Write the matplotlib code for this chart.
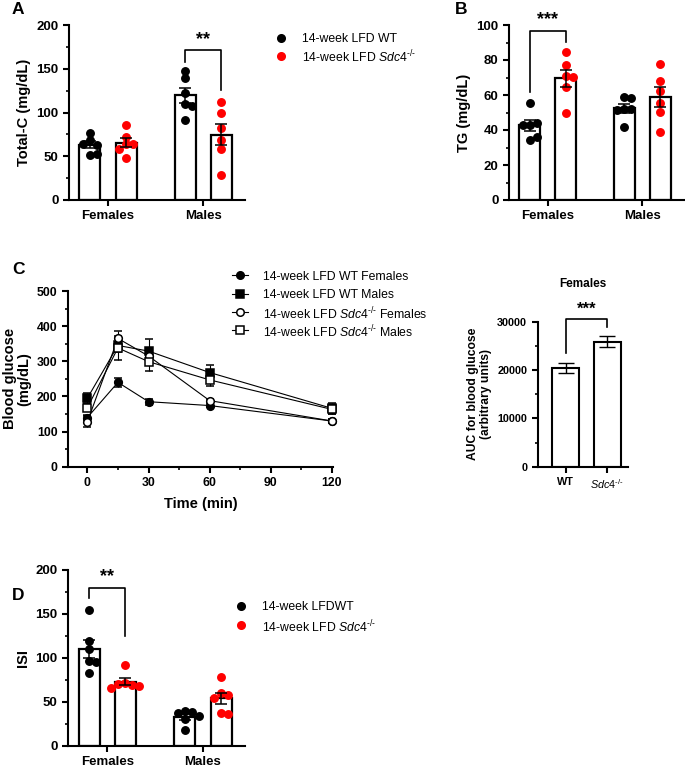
import numpy as np
import matplotlib
matplotlib.use("Agg")
import matplotlib.pyplot as plt
from matplotlib.lines import Line2D
from matplotlib.ticker import MultipleLocator

plt.rcParams["font.family"] = ["Liberation Sans", "DejaVu Sans"]
plt.rcParams["mathtext.fontset"] = "custom"
plt.rcParams["mathtext.rm"] = "Liberation Sans"
plt.rcParams["mathtext.it"] = "Liberation Sans:italic"
plt.rcParams["mathtext.bf"] = "Liberation Sans:bold"

# ── data ──────────────────────────────────────────────────────────────────────
GROUPS = ["Females", "Males"]

# A: total cholesterol (mg/dL)
TC_WT_F = [77, 69, 63, 64, 52, 53]
TC_KO_F = [86, 72, 64, 64, 58, 48]
TC_WT_M = [147, 139, 122, 110, 108, 91]
TC_KO_M = [112, 99, 82, 69, 58, 29]

# B: triglycerides (mg/dL)
TG_WT_F = [55.6, 43, 44, 43, 34.5, 36]
TG_KO_F = [84.4, 77, 70.9, 70.5, 64.4, 49.9]
TG_WT_M = [58.7, 58.5, 51.8, 51.8, 51.4, 42]
TG_KO_M = [77.5, 68.2, 62.3, 55.6, 50.5, 38.7]

# C: glucose tolerance (mg/dL) over time (min)
TIME = [0, 15, 30, 60, 120]
GTT_WT_F = [140, 240, 185, 174, 130]
GTT_WT_F_SEM = [8, 12, 9, 5, 5]
GTT_WT_M = [195, 345, 329, 268, 166]
GTT_WT_M_SEM = [14, 20, 33, 20, 15]
GTT_KO_F = [128, 365, 315, 188, 130]
GTT_KO_F_SEM = [16, 20, 15, 5, 5]
GTT_KO_M = [168, 338, 299, 247, 163]
GTT_KO_M_SEM = [10, 35, 28, 18, 12]

# C (right): AUC, females
KO = r"$\mathit{Sdc4}^{\text{-/-}}$"
AUC_LABELS = ["WT", KO]
AUC_MEAN = [20500, 25850]
AUC_SEM = [1050, 1150]

# D: insulin sensitivity index
ISI_WT_F = [154.5, 119.7, 110, 96.6, 95.5, 83.3]
ISI_KO_F = [92, 72, 69, 70, 68, 66]
ISI_WT_M = [40, 39, 37, 34, 31, 18]
ISI_KO_M = [78, 60, 58, 55, 37, 36]

# ── styling ───────────────────────────────────────────────────────────────────
W, H = 685, 768
RED = "#ff0000"
OFF = 0.19
BAR_W = 0.22
DOT_GAP = 7.0     # px between neighbouring dots
DOT_HIT = 6.3     # px, dots closer than this get pushed sideways
LEG_FS = 8.8

fig = plt.figure(figsize=(W / 100, H / 100), dpi=100)


def ax_px(l, t, r, b):
    return fig.add_axes([l / W, 1 - b / H, (r - l) / W, (b - t) / H])


def style(ax, tick_fs):
    ax.spines[["top", "right"]].set_visible(False)
    ax.spines[["left", "bottom"]].set_linewidth(1.5)
    ax.tick_params(which="major", length=4, width=1.5, labelsize=tick_fs)
    ax.tick_params(which="minor", length=2.5, width=1.2)
    for lab in ax.get_yticklabels() + ax.get_xticklabels():
        lab.set_fontweight("bold")


def swarm(ax, xc, vals, color):
    # place dots side by side when they would overlap (GraphPad-like)
    px_per_x = ax.transData.transform((1, 0))[0] - ax.transData.transform((0, 0))[0]
    placed = []
    xs = []
    for v in vals:
        yp = ax.transData.transform((0, v))[1]
        for k in [0, 1, -1, 2, -2, 3, -3]:
            xp = k * DOT_GAP
            if all((xp - a) ** 2 + (yp - b) ** 2 >= DOT_HIT ** 2 for a, b in placed):
                break
        placed.append((xp, yp))
        xs.append(xc + xp / px_per_x)
    ax.plot(xs, vals, "o", ms=5.4, color=color, mec=color, zorder=3, clip_on=False)


def bracket(ax, x1, x2, y, y1, y2, stars, ys, fs=13):
    ax.plot([x1, x1, x2, x2], [y1, y, y, y2], color="black", lw=1.2, clip_on=False, zorder=4)
    ax.text((x1 + x2) / 2, ys, stars, ha="center", va="center", fontsize=fs,
            fontweight="bold", clip_on=False)


def bar_panel(ax, wt_sets, ko_sets, ymax, major, minor, ylabel):
    ax.set_xlim(-0.41, 1.44)
    ax.set_ylim(0, ymax)
    x = np.arange(len(GROUPS))
    for offs, sets, color in [(-OFF, wt_sets, "black"), (OFF, ko_sets, RED)]:
        means = [np.mean(s) for s in sets]
        sems = [np.std(s, ddof=1) / np.sqrt(len(s)) for s in sets]
        ax.bar(x + offs, means, BAR_W, color="white", edgecolor="black",
               linewidth=1.6, zorder=2)
        for xi, s in zip(x + offs, sets):
            swarm(ax, xi, s, color)
        ax.errorbar(x + offs, means, yerr=sems, fmt="none", ecolor="black",
                    elinewidth=1.1, capsize=4, capthick=1.1, zorder=5)
    ax.set_xticks(x)
    ax.set_xticklabels(GROUPS)
    ax.yaxis.set_major_locator(MultipleLocator(major))
    ax.yaxis.set_minor_locator(MultipleLocator(minor))
    ax.set_ylabel(ylabel, fontsize=10.5, fontweight="bold", labelpad=4)
    style(ax, 9.5)


def legend_rows(x_mark, x_text, ys, labels, markers, line=False):
    for y, lab, (mk, fc, ec) in zip(ys, labels, markers):
        yf = 1 - y / H
        if line:
            fig.add_artist(Line2D([(x_mark - 8) / W, (x_mark + 8) / W], [yf, yf],
                                  transform=fig.transFigure, color="black", lw=0.8))
        fig.add_artist(Line2D([x_mark / W], [yf], transform=fig.transFigure,
                              marker=mk, ms=5.4, mfc=fc, mec=ec, mew=1.1, ls="none"))
        fig.text(x_text / W, yf, lab, fontsize=LEG_FS, va="center_baseline", ha="left")


# ── A ─────────────────────────────────────────────────────────────────────────
axA = ax_px(69, 25, 245, 200)
bar_panel(axA, [TC_WT_F, TC_WT_M], [TC_KO_F, TC_KO_M], 200, 50, 25, "Total-C (mg/dL)")
bracket(axA, 1 - OFF, 1 + OFF, 171, 158, 126, "**", 183)
legend_rows(281, 302, [38, 56], ["14-week LFD WT", "14-week LFD " + KO],
            [("o", "black", "black"), ("o", RED, RED)])

# ── B ─────────────────────────────────────────────────────────────────────────
axB = ax_px(509, 25, 684, 200)
bar_panel(axB, [TG_WT_F, TG_WT_M], [TG_KO_F, TG_KO_M], 100, 20, 10, "TG (mg/dL)")
bracket(axB, -OFF, OFF, 96.6, 62, 90.5, "***", 103)

# ── C ─────────────────────────────────────────────────────────────────────────
axC = ax_px(68, 291, 333, 466.7)
series = [
    (GTT_WT_F, GTT_WT_F_SEM, "o", "black"),
    (GTT_WT_M, GTT_WT_M_SEM, "s", "black"),
    (GTT_KO_F, GTT_KO_F_SEM, "o", "white"),
    (GTT_KO_M, GTT_KO_M_SEM, "s", "white"),
]
for vals, sem, mk, fc in series:
    axC.errorbar(TIME, vals, yerr=sem, marker=mk, ms=5.5, mfc=fc, mec="black", mew=1.1,
                 color="black", lw=0.8, elinewidth=0.8, capsize=3, capthick=0.8,
                 clip_on=False, zorder=3)
axC.set_xlim(-9.5, 120.5)
axC.set_ylim(0, 500)
axC.xaxis.set_major_locator(MultipleLocator(30))
axC.xaxis.set_minor_locator(MultipleLocator(15))
axC.yaxis.set_major_locator(MultipleLocator(100))
axC.yaxis.set_minor_locator(MultipleLocator(50))
axC.set_xlabel("Time (min)", fontsize=10.5, fontweight="bold", labelpad=6)
axC.set_ylabel("Blood glucose\n(mg/dL)", fontsize=10.5, fontweight="bold", labelpad=4,
               linespacing=1.05)
style(axC, 8.8)
legend_rows(240, 263, [275, 294, 312, 330],
            ["14-week LFD WT Females", "14-week LFD WT Males",
             "14-week LFD " + KO + " Females", "14-week LFD " + KO + " Males"],
            [(s[2], s[3], "black") for s in series], line=True)

# ── C (AUC) ───────────────────────────────────────────────────────────────────
axU = ax_px(537.7, 321.7, 628, 466.7)
xu = np.arange(len(AUC_MEAN))
axU.bar(xu, AUC_MEAN, 0.65, color="white", edgecolor="black", linewidth=1.5, zorder=2)
axU.errorbar(xu, AUC_MEAN, yerr=AUC_SEM, fmt="none", ecolor="black", elinewidth=1,
             capsize=6, capthick=1, zorder=3)
axU.set_xlim(-0.67, 1.5)
axU.set_ylim(0, 30000)
axU.set_xticks(xu)
axU.set_xticklabels(AUC_LABELS)
axU.yaxis.set_major_locator(MultipleLocator(10000))
axU.yaxis.set_minor_locator(MultipleLocator(5000))
axU.set_ylabel("AUC for blood glucose\n(arbitrary units)", fontsize=8.7,
               fontweight="bold", labelpad=4, linespacing=1.1)
style(axU, 7.8)
axU.get_xticklabels()[1].set_fontweight("normal")
axU.set_title("Females", fontsize=8.5, fontweight="bold", pad=25)
bracket(axU, 0, 1, 30500, 23500, 28800, "***", 32500, fs=12)

# ── D ─────────────────────────────────────────────────────────────────────────
axD = ax_px(68, 570, 245, 746)
bar_panel(axD, [ISI_WT_F, ISI_WT_M], [ISI_KO_F, ISI_KO_M], 200, 50, 25, "ISI")
bracket(axD, -OFF, OFF, 180, 168, 125, "**", 192)
legend_rows(241, 262, [606, 625], ["14-week LFDWT", "14-week LFD " + KO],
            [("o", "black", "black"), ("o", RED, RED)])

# ── panel letters ─────────────────────────────────────────────────────────────
for lbl, x, y in [("A", 12, 2), ("B", 455, 2), ("C", 12, 262), ("D", 12, 588)]:
    fig.text(x / W, 1 - y / H, lbl, fontsize=12.5, fontweight="bold", va="top", ha="left")

fig.savefig("out.png", dpi=100)
